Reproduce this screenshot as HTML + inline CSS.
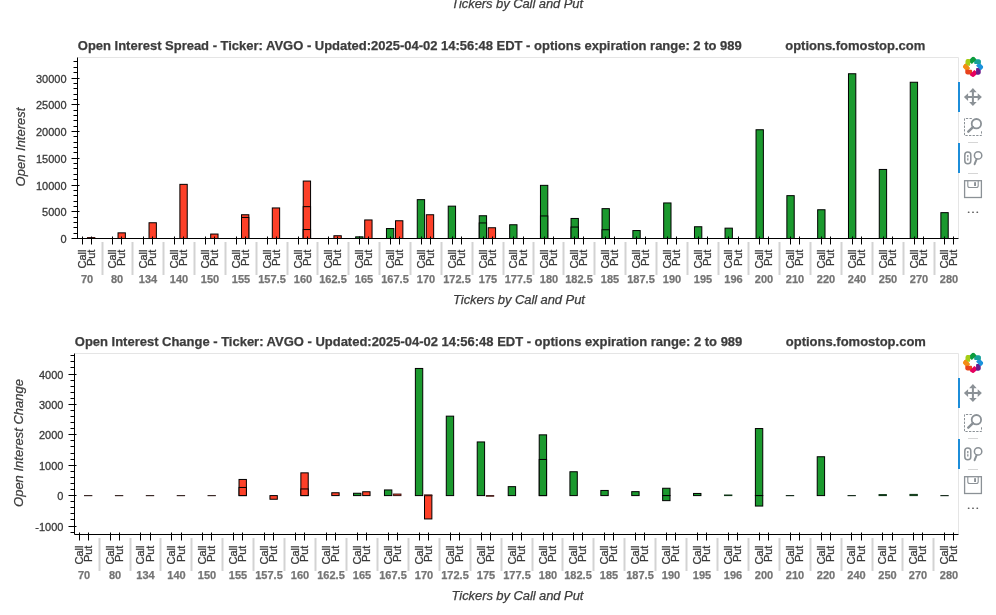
<!DOCTYPE html>
<html><head><meta charset="utf-8"><title>Open Interest</title>
<style>
html,body{margin:0;padding:0;background:#fff;}
body{width:996px;height:615px;overflow:hidden;font-family:"Liberation Sans",sans-serif;}
svg{display:block;}
text{font-family:"Liberation Sans",sans-serif;}
.tk{font-size:11px;fill:#383838;stroke:#383838;stroke-width:0.28px;}
.gp{font-size:11px;font-weight:bold;fill:#747474;stroke:#747474;stroke-width:0.25px;}
.ax{font-size:13px;font-style:italic;fill:#3c3c3c;stroke:#3c3c3c;stroke-width:0.25px;}
.tt{font-size:13px;font-weight:bold;fill:#3c3c3c;stroke:#3c3c3c;stroke-width:0.25px;}
</style></head><body>
<svg width="996" height="615" viewBox="0 0 996 615">
<rect width="996" height="615" fill="#fff"/>
<defs><filter id="lb" x="-20%" y="-20%" width="140%" height="140%"><feGaussianBlur stdDeviation="0.38"/></filter></defs>
<defs><mask id="mm"><rect width="996" height="615" fill="#fff"/></mask></defs>
<g mask="url(#mm)">
<text x="451.3" y="7.6" textLength="131.8" class="ax">Tickers by Call and Put</text>
<path d="M77.5 57.5H958.5V238.5" fill="none" stroke="#e5e5e5" stroke-width="1"/>
<rect x="87.48" y="237.55" width="7.34" height="0.95" fill="#fd4028" stroke="#3a1512" stroke-width="1"/>
<rect x="118.03" y="232.85" width="7.34" height="5.65" fill="#fd4028" stroke="#000" stroke-width="1"/>
<rect x="149.03" y="222.75" width="7.34" height="15.75" fill="#fd4028" stroke="#000" stroke-width="1"/>
<rect x="179.89" y="184.35" width="7.34" height="54.15" fill="#fd4028" stroke="#000" stroke-width="1"/>
<rect x="210.69" y="234.05" width="7.34" height="4.45" fill="#fd4028" stroke="#000" stroke-width="1"/>
<rect x="241.5" y="214.75" width="7.34" height="23.75" fill="#fd4028" stroke="#000" stroke-width="1"/>
<rect x="241.5" y="217.45" width="7.34" height="21.05" fill="#fd4028" stroke="#000" stroke-width="1"/>
<rect x="272.3" y="207.95" width="7.34" height="30.55" fill="#fd4028" stroke="#000" stroke-width="1"/>
<rect x="303.23" y="181.05" width="7.34" height="57.45" fill="#fd4028" stroke="#000" stroke-width="1"/>
<rect x="303.23" y="206.65" width="7.34" height="31.85" fill="#fd4028" stroke="#000" stroke-width="1"/>
<rect x="303.23" y="229.55" width="7.34" height="8.95" fill="#fd4028" stroke="#000" stroke-width="1"/>
<rect x="333.91" y="235.75" width="7.34" height="2.75" fill="#fd4028" stroke="#000" stroke-width="1"/>
<rect x="355.66" y="236.85" width="7.34" height="1.65" fill="#1b992e" stroke="#000" stroke-width="1"/>
<rect x="364.71" y="219.95" width="7.34" height="18.55" fill="#fd4028" stroke="#000" stroke-width="1"/>
<rect x="386.46" y="228.55" width="7.34" height="9.95" fill="#1b992e" stroke="#000" stroke-width="1"/>
<rect x="395.52" y="220.75" width="7.34" height="17.75" fill="#fd4028" stroke="#000" stroke-width="1"/>
<rect x="417.26" y="199.65" width="7.34" height="38.85" fill="#1b992e" stroke="#000" stroke-width="1"/>
<rect x="426.32" y="214.75" width="7.34" height="23.75" fill="#fd4028" stroke="#000" stroke-width="1"/>
<rect x="448.23" y="206.15" width="7.34" height="32.35" fill="#1b992e" stroke="#000" stroke-width="1"/>
<rect x="479.23" y="215.75" width="7.34" height="22.75" fill="#1b992e" stroke="#000" stroke-width="1"/>
<rect x="479.23" y="222.95" width="7.34" height="15.55" fill="#1b992e" stroke="#000" stroke-width="1"/>
<rect x="488.23" y="227.75" width="7.34" height="10.75" fill="#fd4028" stroke="#000" stroke-width="1"/>
<rect x="509.66" y="224.75" width="7.34" height="13.75" fill="#1b992e" stroke="#000" stroke-width="1"/>
<rect x="540.46" y="185.35" width="7.34" height="53.15" fill="#1b992e" stroke="#000" stroke-width="1"/>
<rect x="540.46" y="215.95" width="7.34" height="22.55" fill="#1b992e" stroke="#000" stroke-width="1"/>
<rect x="571.03" y="218.45" width="7.34" height="20.05" fill="#1b992e" stroke="#000" stroke-width="1"/>
<rect x="571.03" y="227.05" width="7.34" height="11.45" fill="#1b992e" stroke="#000" stroke-width="1"/>
<rect x="602.03" y="208.65" width="7.34" height="29.85" fill="#1b992e" stroke="#000" stroke-width="1"/>
<rect x="602.03" y="229.75" width="7.34" height="8.75" fill="#1b992e" stroke="#000" stroke-width="1"/>
<rect x="632.87" y="230.55" width="7.34" height="7.95" fill="#1b992e" stroke="#000" stroke-width="1"/>
<rect x="663.67" y="202.95" width="7.34" height="35.55" fill="#1b992e" stroke="#000" stroke-width="1"/>
<rect x="694.47" y="226.75" width="7.34" height="11.75" fill="#1b992e" stroke="#000" stroke-width="1"/>
<rect x="725.03" y="228.15" width="7.34" height="10.35" fill="#1b992e" stroke="#000" stroke-width="1"/>
<rect x="756.03" y="129.75" width="7.34" height="108.75" fill="#1b992e" stroke="#000" stroke-width="1"/>
<rect x="786.87" y="195.65" width="7.34" height="42.85" fill="#1b992e" stroke="#000" stroke-width="1"/>
<rect x="817.67" y="209.75" width="7.34" height="28.75" fill="#1b992e" stroke="#000" stroke-width="1"/>
<rect x="848.47" y="73.75" width="7.34" height="164.75" fill="#1b992e" stroke="#000" stroke-width="1"/>
<rect x="879.27" y="169.45" width="7.34" height="69.05" fill="#1b992e" stroke="#000" stroke-width="1"/>
<rect x="910.23" y="82.25" width="7.34" height="156.25" fill="#1b992e" stroke="#000" stroke-width="1"/>
<rect x="940.87" y="212.65" width="7.34" height="25.85" fill="#1b992e" stroke="#000" stroke-width="1"/>
<path d="M77.5 57.5V238.5H958.5" fill="none" stroke="#000" stroke-width="1"/>
<path d="M71.5 238.5H79.5M73.5 233.5H77.5M73.5 227.5H77.5M73.5 222.5H77.5M73.5 217.5H77.5M71.5 211.5H79.5M73.5 206.5H77.5M73.5 201.5H77.5M73.5 195.5H77.5M73.5 190.5H77.5M71.5 185.5H79.5M73.5 179.5H77.5M73.5 174.5H77.5M73.5 168.5H77.5M73.5 163.5H77.5M71.5 158.5H79.5M73.5 152.5H77.5M73.5 147.5H77.5M73.5 142.5H77.5M73.5 136.5H77.5M71.5 131.5H79.5M73.5 126.5H77.5M73.5 120.5H77.5M73.5 115.5H77.5M73.5 110.5H77.5M71.5 104.5H79.5M73.5 99.5H77.5M73.5 94.5H77.5M73.5 88.5H77.5M73.5 83.5H77.5M71.5 78.5H79.5M73.5 72.5H77.5M73.5 67.5H77.5M73.5 61.5H77.5" fill="none" stroke="#000" stroke-width="1"/>
<text x="66.6" y="242.85" text-anchor="end" class="tk">0</text>
<text x="66.6" y="215.85" text-anchor="end" class="tk">5000</text>
<text x="66.6" y="189.85" text-anchor="end" class="tk">10000</text>
<text x="66.6" y="162.85" text-anchor="end" class="tk">15000</text>
<text x="66.6" y="135.85" text-anchor="end" class="tk">20000</text>
<text x="66.6" y="108.85" text-anchor="end" class="tk">25000</text>
<text x="66.6" y="82.85" text-anchor="end" class="tk">30000</text>
<path d="M82.5 236.5V244.5M91.5 236.5V244.5M112.5 236.5V244.5M121.5 236.5V244.5M143.5 236.5V244.5M152.5 236.5V244.5M174.5 236.5V244.5M183.5 236.5V244.5M205.5 236.5V244.5M214.5 236.5V244.5M236.5 236.5V244.5M245.5 236.5V244.5M267.5 236.5V244.5M276.5 236.5V244.5M298.5 236.5V244.5M307.5 236.5V244.5M328.5 236.5V244.5M337.5 236.5V244.5M359.5 236.5V244.5M368.5 236.5V244.5M390.5 236.5V244.5M399.5 236.5V244.5M421.5 236.5V244.5M430.5 236.5V244.5M452.5 236.5V244.5M461.5 236.5V244.5M483.5 236.5V244.5M492.5 236.5V244.5M513.5 236.5V244.5M523.5 236.5V244.5M544.5 236.5V244.5M553.5 236.5V244.5M574.5 236.5V244.5M583.5 236.5V244.5M605.5 236.5V244.5M614.5 236.5V244.5M636.5 236.5V244.5M645.5 236.5V244.5M667.5 236.5V244.5M676.5 236.5V244.5M698.5 236.5V244.5M707.5 236.5V244.5M728.5 236.5V244.5M738.5 236.5V244.5M759.5 236.5V244.5M768.5 236.5V244.5M790.5 236.5V244.5M799.5 236.5V244.5M821.5 236.5V244.5M830.5 236.5V244.5M852.5 236.5V244.5M861.5 236.5V244.5M883.5 236.5V244.5M892.5 236.5V244.5M914.5 236.5V244.5M923.5 236.5V244.5M944.5 236.5V244.5M953.5 236.5V244.5" fill="none" stroke="#000" stroke-width="1"/>
<path d="M102.5 242V275M132.5 242V275M163.5 242V275M194.5 242V275M225.5 242V275M256.5 242V275M287.5 242V275M317.5 242V275M348.5 242V275M379.5 242V275M410.5 242V275M441.5 242V275M472.5 242V275M503.5 242V275M533.5 242V275M563.5 242V275M594.5 242V275M625.5 242V275M656.5 242V275M687.5 242V275M718.5 242V275M748.5 242V275M779.5 242V275M810.5 242V275M841.5 242V275M872.5 242V275M903.5 242V275M934.5 242V275" fill="none" stroke="#d3d3d3" stroke-width="2"/>
<text transform="translate(86.4 249.6) rotate(-90)" text-anchor="end" class="tk">Call</text>
<text transform="translate(95.4 249.6) rotate(-90)" text-anchor="end" class="tk">Put</text>
<text transform="translate(116.4 249.6) rotate(-90)" text-anchor="end" class="tk">Call</text>
<text transform="translate(125.4 249.6) rotate(-90)" text-anchor="end" class="tk">Put</text>
<text transform="translate(147.4 249.6) rotate(-90)" text-anchor="end" class="tk">Call</text>
<text transform="translate(156.4 249.6) rotate(-90)" text-anchor="end" class="tk">Put</text>
<text transform="translate(178.4 249.6) rotate(-90)" text-anchor="end" class="tk">Call</text>
<text transform="translate(187.4 249.6) rotate(-90)" text-anchor="end" class="tk">Put</text>
<text transform="translate(209.4 249.6) rotate(-90)" text-anchor="end" class="tk">Call</text>
<text transform="translate(218.4 249.6) rotate(-90)" text-anchor="end" class="tk">Put</text>
<text transform="translate(240.4 249.6) rotate(-90)" text-anchor="end" class="tk">Call</text>
<text transform="translate(249.4 249.6) rotate(-90)" text-anchor="end" class="tk">Put</text>
<text transform="translate(271.4 249.6) rotate(-90)" text-anchor="end" class="tk">Call</text>
<text transform="translate(280.4 249.6) rotate(-90)" text-anchor="end" class="tk">Put</text>
<text transform="translate(302.4 249.6) rotate(-90)" text-anchor="end" class="tk">Call</text>
<text transform="translate(311.4 249.6) rotate(-90)" text-anchor="end" class="tk">Put</text>
<text transform="translate(332.4 249.6) rotate(-90)" text-anchor="end" class="tk">Call</text>
<text transform="translate(341.4 249.6) rotate(-90)" text-anchor="end" class="tk">Put</text>
<text transform="translate(363.4 249.6) rotate(-90)" text-anchor="end" class="tk">Call</text>
<text transform="translate(372.4 249.6) rotate(-90)" text-anchor="end" class="tk">Put</text>
<text transform="translate(394.4 249.6) rotate(-90)" text-anchor="end" class="tk">Call</text>
<text transform="translate(403.4 249.6) rotate(-90)" text-anchor="end" class="tk">Put</text>
<text transform="translate(425.4 249.6) rotate(-90)" text-anchor="end" class="tk">Call</text>
<text transform="translate(434.4 249.6) rotate(-90)" text-anchor="end" class="tk">Put</text>
<text transform="translate(456.4 249.6) rotate(-90)" text-anchor="end" class="tk">Call</text>
<text transform="translate(465.4 249.6) rotate(-90)" text-anchor="end" class="tk">Put</text>
<text transform="translate(487.4 249.6) rotate(-90)" text-anchor="end" class="tk">Call</text>
<text transform="translate(496.4 249.6) rotate(-90)" text-anchor="end" class="tk">Put</text>
<text transform="translate(517.4 249.6) rotate(-90)" text-anchor="end" class="tk">Call</text>
<text transform="translate(527.4 249.6) rotate(-90)" text-anchor="end" class="tk">Put</text>
<text transform="translate(548.4 249.6) rotate(-90)" text-anchor="end" class="tk">Call</text>
<text transform="translate(557.4 249.6) rotate(-90)" text-anchor="end" class="tk">Put</text>
<text transform="translate(578.4 249.6) rotate(-90)" text-anchor="end" class="tk">Call</text>
<text transform="translate(587.4 249.6) rotate(-90)" text-anchor="end" class="tk">Put</text>
<text transform="translate(609.4 249.6) rotate(-90)" text-anchor="end" class="tk">Call</text>
<text transform="translate(618.4 249.6) rotate(-90)" text-anchor="end" class="tk">Put</text>
<text transform="translate(640.4 249.6) rotate(-90)" text-anchor="end" class="tk">Call</text>
<text transform="translate(649.4 249.6) rotate(-90)" text-anchor="end" class="tk">Put</text>
<text transform="translate(671.4 249.6) rotate(-90)" text-anchor="end" class="tk">Call</text>
<text transform="translate(680.4 249.6) rotate(-90)" text-anchor="end" class="tk">Put</text>
<text transform="translate(702.4 249.6) rotate(-90)" text-anchor="end" class="tk">Call</text>
<text transform="translate(711.4 249.6) rotate(-90)" text-anchor="end" class="tk">Put</text>
<text transform="translate(732.4 249.6) rotate(-90)" text-anchor="end" class="tk">Call</text>
<text transform="translate(742.4 249.6) rotate(-90)" text-anchor="end" class="tk">Put</text>
<text transform="translate(763.4 249.6) rotate(-90)" text-anchor="end" class="tk">Call</text>
<text transform="translate(772.4 249.6) rotate(-90)" text-anchor="end" class="tk">Put</text>
<text transform="translate(794.4 249.6) rotate(-90)" text-anchor="end" class="tk">Call</text>
<text transform="translate(803.4 249.6) rotate(-90)" text-anchor="end" class="tk">Put</text>
<text transform="translate(825.4 249.6) rotate(-90)" text-anchor="end" class="tk">Call</text>
<text transform="translate(834.4 249.6) rotate(-90)" text-anchor="end" class="tk">Put</text>
<text transform="translate(856.4 249.6) rotate(-90)" text-anchor="end" class="tk">Call</text>
<text transform="translate(865.4 249.6) rotate(-90)" text-anchor="end" class="tk">Put</text>
<text transform="translate(887.4 249.6) rotate(-90)" text-anchor="end" class="tk">Call</text>
<text transform="translate(896.4 249.6) rotate(-90)" text-anchor="end" class="tk">Put</text>
<text transform="translate(918.4 249.6) rotate(-90)" text-anchor="end" class="tk">Call</text>
<text transform="translate(927.4 249.6) rotate(-90)" text-anchor="end" class="tk">Put</text>
<text transform="translate(948.4 249.6) rotate(-90)" text-anchor="end" class="tk">Call</text>
<text transform="translate(957.4 249.6) rotate(-90)" text-anchor="end" class="tk">Put</text>
<text x="87" y="283.45" text-anchor="middle" class="gp">70</text>
<text x="117" y="283.45" text-anchor="middle" class="gp">80</text>
<text x="148" y="283.45" text-anchor="middle" class="gp">134</text>
<text x="179" y="283.45" text-anchor="middle" class="gp">140</text>
<text x="210" y="283.45" text-anchor="middle" class="gp">150</text>
<text x="241" y="283.45" text-anchor="middle" class="gp">155</text>
<text x="272" y="283.45" text-anchor="middle" class="gp">157.5</text>
<text x="303" y="283.45" text-anchor="middle" class="gp">160</text>
<text x="333" y="283.45" text-anchor="middle" class="gp">162.5</text>
<text x="364" y="283.45" text-anchor="middle" class="gp">165</text>
<text x="395" y="283.45" text-anchor="middle" class="gp">167.5</text>
<text x="426" y="283.45" text-anchor="middle" class="gp">170</text>
<text x="457" y="283.45" text-anchor="middle" class="gp">172.5</text>
<text x="488" y="283.45" text-anchor="middle" class="gp">175</text>
<text x="518.5" y="283.45" text-anchor="middle" class="gp">177.5</text>
<text x="549" y="283.45" text-anchor="middle" class="gp">180</text>
<text x="579" y="283.45" text-anchor="middle" class="gp">182.5</text>
<text x="610" y="283.45" text-anchor="middle" class="gp">185</text>
<text x="641" y="283.45" text-anchor="middle" class="gp">187.5</text>
<text x="672" y="283.45" text-anchor="middle" class="gp">190</text>
<text x="703" y="283.45" text-anchor="middle" class="gp">195</text>
<text x="733.5" y="283.45" text-anchor="middle" class="gp">196</text>
<text x="764" y="283.45" text-anchor="middle" class="gp">200</text>
<text x="795" y="283.45" text-anchor="middle" class="gp">210</text>
<text x="826" y="283.45" text-anchor="middle" class="gp">220</text>
<text x="857" y="283.45" text-anchor="middle" class="gp">240</text>
<text x="888" y="283.45" text-anchor="middle" class="gp">250</text>
<text x="919" y="283.45" text-anchor="middle" class="gp">270</text>
<text x="949" y="283.45" text-anchor="middle" class="gp">280</text>
<text x="453.1" y="303.7" textLength="131.8" class="ax">Tickers by Call and Put</text>
<text transform="translate(24.5 147) rotate(-90)" text-anchor="middle" class="ax">Open Interest</text>
<text x="77.8" y="50" textLength="663.9" class="tt">Open Interest Spread - Ticker: AVGO - Updated:2025-04-02 14:56:48 EDT - options expiration range: 2 to 989</text>
<text x="785.2" y="50" class="tt">options.fomostop.com</text>
<g transform="translate(973.1 66.9)" filter="url(#lb)">
<clipPath id="lr57"><circle r="10.1"/></clipPath>
<g clip-path="url(#lr57)">
<g transform="rotate(270)"><rect x="-2.33" y="-3.38" width="4.65" height="6.77" rx="0.9" fill="#f38d14" transform="translate(-0.6 -6.88) rotate(45)"/></g>
<g transform="rotate(225)"><rect x="-2.33" y="-3.38" width="4.65" height="6.77" rx="0.9" fill="#e8421c" transform="translate(-0.6 -6.88) rotate(45)"/></g>
<g transform="rotate(180)"><rect x="-2.33" y="-3.38" width="4.65" height="6.77" rx="0.9" fill="#e6005e" transform="translate(-0.6 -6.88) rotate(45)"/></g>
<g transform="rotate(135)"><rect x="-2.33" y="-3.38" width="4.65" height="6.77" rx="0.9" fill="#6a1b8c" transform="translate(-0.6 -6.88) rotate(45)"/></g>
<g transform="rotate(90)"><rect x="-2.33" y="-3.38" width="4.65" height="6.77" rx="0.9" fill="#1f92dc" transform="translate(-0.6 -6.88) rotate(45)"/></g>
<g transform="rotate(45)"><rect x="-2.33" y="-3.38" width="4.65" height="6.77" rx="0.9" fill="#15a19a" transform="translate(-0.6 -6.88) rotate(45)"/></g>
<g transform="rotate(0)"><rect x="-2.33" y="-3.38" width="4.65" height="6.77" rx="0.9" fill="#109c3e" transform="translate(-0.6 -6.88) rotate(45)"/></g>
<g transform="rotate(315)"><rect x="-2.33" y="-3.38" width="4.65" height="6.77" rx="0.9" fill="#a4cd14" transform="translate(-0.6 -6.88) rotate(45)"/></g>
<clipPath id="lc57"><rect x="-12" y="-6" width="12" height="6.4"/></clipPath>
<g clip-path="url(#lc57)">
<g transform="rotate(270)"><rect x="-2.33" y="-3.38" width="4.65" height="6.77" rx="0.9" fill="#f38d14" transform="translate(-0.6 -6.88) rotate(45)"/></g>
</g>
</g>
</g>
<rect x="958" y="82" width="2" height="30" fill="#1c8dd9"/>
<rect x="958" y="143" width="2" height="30" fill="#1c8dd9"/>
<g transform="translate(972.9 97.1)" fill="#8b9196" stroke="none"><path d="M0 -9L3.8 -4.8H1V-1H4.8V-3.8L9 0L4.8 3.8V1H1V4.8H3.8L0 9L-3.8 4.8H-1V1H-4.8V3.8L-9 0L-4.8 -3.8V-1H-1V-4.8H-3.8Z"/></g>
<g transform="translate(964 118)" fill="none" stroke="#8b9196"><path d="M7.8 0.5H0.5V17.5H17.5V12.6" stroke-width="1" stroke-dasharray="2.3 1.3"/><circle cx="12.4" cy="5.7" r="4.7" stroke-width="1.8"/><path d="M9 9.2L4.3 13.7" stroke-width="2.5" stroke-linecap="round"/></g>
<path d="M968 142.5H978M968 173.5H978" stroke="#d6d6d6" stroke-width="1" fill="none"/>
<g transform="translate(964 149)" fill="none" stroke="#8b9196"><rect x="0.8" y="3.1" width="6" height="11.6" rx="3" stroke-width="1.5"/><path d="M3.8 5.9V8.2M3.8 9.2V11.4" stroke-width="1.3"/><circle cx="14.1" cy="6.4" r="3.7" stroke-width="1.5"/><path d="M12.6 10.2L10.6 15.2" stroke-width="2" stroke-linecap="round"/></g>
<g transform="translate(964 180)" fill="none" stroke="#8b9196" stroke-width="1.3"><rect x="0.6" y="0.7" width="16.8" height="16.8"/><path d="M3.8 0.7V5.4Q3.8 7.5 5.8 7.5H12.2Q14.2 7.5 14.2 5.4V0.7" stroke-width="1.1"/><rect x="10.1" y="2.2" width="1.9" height="3.8" fill="#8b9196" stroke="none"/></g>
<g fill="#626262"><rect x="967.8" y="211.4" width="1.7" height="1.6" rx="0.5"/><rect x="972.15" y="211.4" width="1.7" height="1.6" rx="0.5"/><rect x="976.45" y="211.4" width="1.7" height="1.6" rx="0.5"/></g>
<path d="M74.5 353.5H958.5V534.5" fill="none" stroke="#e5e5e5" stroke-width="1"/>
<path d="M83.99 495.6H92.35" stroke="#3d2c2a" stroke-width="1.2" fill="none"/>
<path d="M114.9 495.6H123.26" stroke="#3d2c2a" stroke-width="1.2" fill="none"/>
<path d="M145.81 495.6H154.17" stroke="#3d2c2a" stroke-width="1.2" fill="none"/>
<path d="M176.72 495.6H185.08" stroke="#3d2c2a" stroke-width="1.2" fill="none"/>
<path d="M207.52 495.6H215.88" stroke="#3d2c2a" stroke-width="1.2" fill="none"/>
<rect x="239.02" y="479.45" width="7.37" height="16.15" fill="#fd4028" stroke="#000" stroke-width="1"/>
<rect x="239.02" y="487.45" width="7.37" height="8.15" fill="#fd4028" stroke="#000" stroke-width="1"/>
<rect x="269.95" y="495.6" width="7.37" height="3.65" fill="#fd4028" stroke="#000" stroke-width="1"/>
<rect x="300.86" y="472.85" width="7.37" height="22.75" fill="#fd4028" stroke="#000" stroke-width="1"/>
<rect x="300.86" y="488.95" width="7.37" height="6.65" fill="#fd4028" stroke="#000" stroke-width="1"/>
<rect x="331.77" y="492.75" width="7.37" height="2.85" fill="#fd4028" stroke="#000" stroke-width="1"/>
<rect x="353.55" y="493.25" width="7.37" height="2.35" fill="#1b992e" stroke="#000" stroke-width="1"/>
<rect x="362.68" y="491.75" width="7.37" height="3.85" fill="#fd4028" stroke="#000" stroke-width="1"/>
<rect x="384.46" y="489.95" width="7.37" height="5.65" fill="#1b992e" stroke="#000" stroke-width="1"/>
<rect x="393.59" y="494.05" width="7.37" height="1.55" fill="#fd4028" stroke="#3a1512" stroke-width="1"/>
<rect x="415.37" y="368.45" width="7.37" height="127.15" fill="#1b992e" stroke="#000" stroke-width="1"/>
<rect x="424.5" y="495.6" width="7.37" height="23.35" fill="#fd4028" stroke="#000" stroke-width="1"/>
<rect x="424.5" y="494.9" width="7.37" height="0.7" fill="#fd4028" stroke="#3a1512" stroke-width="1"/>
<rect x="446.28" y="416.15" width="7.37" height="79.45" fill="#1b992e" stroke="#000" stroke-width="1"/>
<rect x="477.22" y="441.95" width="7.37" height="53.65" fill="#1b992e" stroke="#000" stroke-width="1"/>
<rect x="486.33" y="495.6" width="7.37" height="0.6" fill="#fd4028" stroke="#3a1512" stroke-width="1"/>
<rect x="508.22" y="486.65" width="7.37" height="8.95" fill="#1b992e" stroke="#000" stroke-width="1"/>
<rect x="539.22" y="434.85" width="7.37" height="60.75" fill="#1b992e" stroke="#000" stroke-width="1"/>
<rect x="539.22" y="459.45" width="7.37" height="36.15" fill="#1b992e" stroke="#000" stroke-width="1"/>
<rect x="569.92" y="471.75" width="7.37" height="23.85" fill="#1b992e" stroke="#000" stroke-width="1"/>
<rect x="600.83" y="490.45" width="7.37" height="5.15" fill="#1b992e" stroke="#000" stroke-width="1"/>
<rect x="631.74" y="491.65" width="7.37" height="3.95" fill="#1b992e" stroke="#000" stroke-width="1"/>
<rect x="662.65" y="488.25" width="7.37" height="7.35" fill="#1b992e" stroke="#000" stroke-width="1"/>
<rect x="662.65" y="495.6" width="7.37" height="5.05" fill="#1b992e" stroke="#000" stroke-width="1"/>
<rect x="693.56" y="493.45" width="7.37" height="2.15" fill="#1b992e" stroke="#000" stroke-width="1"/>
<rect x="724.48" y="495" width="7.37" height="0.6" fill="#1b992e" stroke="#0f3517" stroke-width="1"/>
<rect x="755.39" y="428.55" width="7.37" height="67.05" fill="#1b992e" stroke="#000" stroke-width="1"/>
<rect x="755.39" y="495.6" width="7.37" height="10.45" fill="#1b992e" stroke="#000" stroke-width="1"/>
<path d="M785.8 495.6H794.16" stroke="#1c3022" stroke-width="1.2" fill="none"/>
<rect x="817.22" y="456.75" width="7.37" height="38.85" fill="#1b992e" stroke="#000" stroke-width="1"/>
<path d="M847.52 495.6H855.88" stroke="#1c3022" stroke-width="1.2" fill="none"/>
<rect x="879.02" y="494.6" width="7.37" height="1" fill="#1b992e" stroke="#0f3517" stroke-width="1"/>
<rect x="909.94" y="494.4" width="7.37" height="1.2" fill="#1b992e" stroke="#0f3517" stroke-width="1"/>
<path d="M940.35 495.6H948.72" stroke="#1c3022" stroke-width="1.2" fill="none"/>
<path d="M74.5 353.5V534.5H958.5" fill="none" stroke="#000" stroke-width="1"/>
<path d="M70.5 532.5H74.5M68.5 526.5H76.5M70.5 519.5H74.5M70.5 513.5H74.5M70.5 507.5H74.5M70.5 501.5H74.5M68.5 495.5H76.5M70.5 489.5H74.5M70.5 483.5H74.5M70.5 477.5H74.5M70.5 471.5H74.5M68.5 465.5H76.5M70.5 459.5H74.5M70.5 453.5H74.5M70.5 446.5H74.5M70.5 440.5H74.5M68.5 434.5H76.5M70.5 428.5H74.5M70.5 422.5H74.5M70.5 416.5H74.5M70.5 410.5H74.5M68.5 404.5H76.5M70.5 398.5H74.5M70.5 392.5H74.5M70.5 386.5H74.5M70.5 380.5H74.5M68.5 374.5H76.5M70.5 367.5H74.5M70.5 361.5H74.5M70.5 355.5H74.5" fill="none" stroke="#000" stroke-width="1"/>
<text x="63.4" y="530.95" text-anchor="end" class="tk">-1000</text>
<text x="63.4" y="499.95" text-anchor="end" class="tk">0</text>
<text x="63.4" y="469.95" text-anchor="end" class="tk">1000</text>
<text x="63.4" y="438.95" text-anchor="end" class="tk">2000</text>
<text x="63.4" y="408.95" text-anchor="end" class="tk">3000</text>
<text x="63.4" y="378.95" text-anchor="end" class="tk">4000</text>
<path d="M79.5 532.5V540.5M88.5 532.5V540.5M110.5 532.5V540.5M119.5 532.5V540.5M140.5 532.5V540.5M150.5 532.5V540.5M171.5 532.5V540.5M181.5 532.5V540.5M202.5 532.5V540.5M211.5 532.5V540.5M233.5 532.5V540.5M242.5 532.5V540.5M264.5 532.5V540.5M273.5 532.5V540.5M295.5 532.5V540.5M304.5 532.5V540.5M326.5 532.5V540.5M335.5 532.5V540.5M357.5 532.5V540.5M366.5 532.5V540.5M388.5 532.5V540.5M397.5 532.5V540.5M419.5 532.5V540.5M428.5 532.5V540.5M450.5 532.5V540.5M459.5 532.5V540.5M481.5 532.5V540.5M490.5 532.5V540.5M512.5 532.5V540.5M521.5 532.5V540.5M543.5 532.5V540.5M552.5 532.5V540.5M573.5 532.5V540.5M582.5 532.5V540.5M604.5 532.5V540.5M613.5 532.5V540.5M635.5 532.5V540.5M644.5 532.5V540.5M666.5 532.5V540.5M675.5 532.5V540.5M697.5 532.5V540.5M706.5 532.5V540.5M728.5 532.5V540.5M737.5 532.5V540.5M759.5 532.5V540.5M768.5 532.5V540.5M790.5 532.5V540.5M799.5 532.5V540.5M821.5 532.5V540.5M830.5 532.5V540.5M851.5 532.5V540.5M861.5 532.5V540.5M882.5 532.5V540.5M892.5 532.5V540.5M913.5 532.5V540.5M922.5 532.5V540.5M944.5 532.5V540.5M953.5 532.5V540.5" fill="none" stroke="#000" stroke-width="1"/>
<path d="M99.5 538V571M130.5 538V571M160.5 538V571M191.5 538V571M222.5 538V571M253.5 538V571M284.5 538V571M315.5 538V571M346.5 538V571M377.5 538V571M408.5 538V571M439.5 538V571M470.5 538V571M501.5 538V571M532.5 538V571M562.5 538V571M593.5 538V571M624.5 538V571M655.5 538V571M686.5 538V571M717.5 538V571M748.5 538V571M779.5 538V571M810.5 538V571M841.5 538V571M872.5 538V571M902.5 538V571M933.5 538V571" fill="none" stroke="#d3d3d3" stroke-width="2"/>
<text transform="translate(83.4 545.6) rotate(-90)" text-anchor="end" class="tk">Call</text>
<text transform="translate(92.4 545.6) rotate(-90)" text-anchor="end" class="tk">Put</text>
<text transform="translate(114.4 545.6) rotate(-90)" text-anchor="end" class="tk">Call</text>
<text transform="translate(123.4 545.6) rotate(-90)" text-anchor="end" class="tk">Put</text>
<text transform="translate(144.4 545.6) rotate(-90)" text-anchor="end" class="tk">Call</text>
<text transform="translate(154.4 545.6) rotate(-90)" text-anchor="end" class="tk">Put</text>
<text transform="translate(175.4 545.6) rotate(-90)" text-anchor="end" class="tk">Call</text>
<text transform="translate(185.4 545.6) rotate(-90)" text-anchor="end" class="tk">Put</text>
<text transform="translate(206.4 545.6) rotate(-90)" text-anchor="end" class="tk">Call</text>
<text transform="translate(215.4 545.6) rotate(-90)" text-anchor="end" class="tk">Put</text>
<text transform="translate(237.4 545.6) rotate(-90)" text-anchor="end" class="tk">Call</text>
<text transform="translate(246.4 545.6) rotate(-90)" text-anchor="end" class="tk">Put</text>
<text transform="translate(268.4 545.6) rotate(-90)" text-anchor="end" class="tk">Call</text>
<text transform="translate(277.4 545.6) rotate(-90)" text-anchor="end" class="tk">Put</text>
<text transform="translate(299.4 545.6) rotate(-90)" text-anchor="end" class="tk">Call</text>
<text transform="translate(308.4 545.6) rotate(-90)" text-anchor="end" class="tk">Put</text>
<text transform="translate(330.4 545.6) rotate(-90)" text-anchor="end" class="tk">Call</text>
<text transform="translate(339.4 545.6) rotate(-90)" text-anchor="end" class="tk">Put</text>
<text transform="translate(361.4 545.6) rotate(-90)" text-anchor="end" class="tk">Call</text>
<text transform="translate(370.4 545.6) rotate(-90)" text-anchor="end" class="tk">Put</text>
<text transform="translate(392.4 545.6) rotate(-90)" text-anchor="end" class="tk">Call</text>
<text transform="translate(401.4 545.6) rotate(-90)" text-anchor="end" class="tk">Put</text>
<text transform="translate(423.4 545.6) rotate(-90)" text-anchor="end" class="tk">Call</text>
<text transform="translate(432.4 545.6) rotate(-90)" text-anchor="end" class="tk">Put</text>
<text transform="translate(454.4 545.6) rotate(-90)" text-anchor="end" class="tk">Call</text>
<text transform="translate(463.4 545.6) rotate(-90)" text-anchor="end" class="tk">Put</text>
<text transform="translate(485.4 545.6) rotate(-90)" text-anchor="end" class="tk">Call</text>
<text transform="translate(494.4 545.6) rotate(-90)" text-anchor="end" class="tk">Put</text>
<text transform="translate(516.4 545.6) rotate(-90)" text-anchor="end" class="tk">Call</text>
<text transform="translate(525.4 545.6) rotate(-90)" text-anchor="end" class="tk">Put</text>
<text transform="translate(547.4 545.6) rotate(-90)" text-anchor="end" class="tk">Call</text>
<text transform="translate(556.4 545.6) rotate(-90)" text-anchor="end" class="tk">Put</text>
<text transform="translate(577.4 545.6) rotate(-90)" text-anchor="end" class="tk">Call</text>
<text transform="translate(586.4 545.6) rotate(-90)" text-anchor="end" class="tk">Put</text>
<text transform="translate(608.4 545.6) rotate(-90)" text-anchor="end" class="tk">Call</text>
<text transform="translate(617.4 545.6) rotate(-90)" text-anchor="end" class="tk">Put</text>
<text transform="translate(639.4 545.6) rotate(-90)" text-anchor="end" class="tk">Call</text>
<text transform="translate(648.4 545.6) rotate(-90)" text-anchor="end" class="tk">Put</text>
<text transform="translate(670.4 545.6) rotate(-90)" text-anchor="end" class="tk">Call</text>
<text transform="translate(679.4 545.6) rotate(-90)" text-anchor="end" class="tk">Put</text>
<text transform="translate(701.4 545.6) rotate(-90)" text-anchor="end" class="tk">Call</text>
<text transform="translate(710.4 545.6) rotate(-90)" text-anchor="end" class="tk">Put</text>
<text transform="translate(732.4 545.6) rotate(-90)" text-anchor="end" class="tk">Call</text>
<text transform="translate(741.4 545.6) rotate(-90)" text-anchor="end" class="tk">Put</text>
<text transform="translate(763.4 545.6) rotate(-90)" text-anchor="end" class="tk">Call</text>
<text transform="translate(772.4 545.6) rotate(-90)" text-anchor="end" class="tk">Put</text>
<text transform="translate(794.4 545.6) rotate(-90)" text-anchor="end" class="tk">Call</text>
<text transform="translate(803.4 545.6) rotate(-90)" text-anchor="end" class="tk">Put</text>
<text transform="translate(825.4 545.6) rotate(-90)" text-anchor="end" class="tk">Call</text>
<text transform="translate(834.4 545.6) rotate(-90)" text-anchor="end" class="tk">Put</text>
<text transform="translate(855.4 545.6) rotate(-90)" text-anchor="end" class="tk">Call</text>
<text transform="translate(865.4 545.6) rotate(-90)" text-anchor="end" class="tk">Put</text>
<text transform="translate(886.4 545.6) rotate(-90)" text-anchor="end" class="tk">Call</text>
<text transform="translate(896.4 545.6) rotate(-90)" text-anchor="end" class="tk">Put</text>
<text transform="translate(917.4 545.6) rotate(-90)" text-anchor="end" class="tk">Call</text>
<text transform="translate(926.4 545.6) rotate(-90)" text-anchor="end" class="tk">Put</text>
<text transform="translate(948.4 545.6) rotate(-90)" text-anchor="end" class="tk">Call</text>
<text transform="translate(957.4 545.6) rotate(-90)" text-anchor="end" class="tk">Put</text>
<text x="84" y="579.45" text-anchor="middle" class="gp">70</text>
<text x="115" y="579.45" text-anchor="middle" class="gp">80</text>
<text x="145.5" y="579.45" text-anchor="middle" class="gp">134</text>
<text x="176.5" y="579.45" text-anchor="middle" class="gp">140</text>
<text x="207" y="579.45" text-anchor="middle" class="gp">150</text>
<text x="238" y="579.45" text-anchor="middle" class="gp">155</text>
<text x="269" y="579.45" text-anchor="middle" class="gp">157.5</text>
<text x="300" y="579.45" text-anchor="middle" class="gp">160</text>
<text x="331" y="579.45" text-anchor="middle" class="gp">162.5</text>
<text x="362" y="579.45" text-anchor="middle" class="gp">165</text>
<text x="393" y="579.45" text-anchor="middle" class="gp">167.5</text>
<text x="424" y="579.45" text-anchor="middle" class="gp">170</text>
<text x="455" y="579.45" text-anchor="middle" class="gp">172.5</text>
<text x="486" y="579.45" text-anchor="middle" class="gp">175</text>
<text x="517" y="579.45" text-anchor="middle" class="gp">177.5</text>
<text x="548" y="579.45" text-anchor="middle" class="gp">180</text>
<text x="578" y="579.45" text-anchor="middle" class="gp">182.5</text>
<text x="609" y="579.45" text-anchor="middle" class="gp">185</text>
<text x="640" y="579.45" text-anchor="middle" class="gp">187.5</text>
<text x="671" y="579.45" text-anchor="middle" class="gp">190</text>
<text x="702" y="579.45" text-anchor="middle" class="gp">195</text>
<text x="733" y="579.45" text-anchor="middle" class="gp">196</text>
<text x="764" y="579.45" text-anchor="middle" class="gp">200</text>
<text x="795" y="579.45" text-anchor="middle" class="gp">210</text>
<text x="826" y="579.45" text-anchor="middle" class="gp">220</text>
<text x="856.5" y="579.45" text-anchor="middle" class="gp">240</text>
<text x="887.5" y="579.45" text-anchor="middle" class="gp">250</text>
<text x="918" y="579.45" text-anchor="middle" class="gp">270</text>
<text x="949" y="579.45" text-anchor="middle" class="gp">280</text>
<text x="451.6" y="599.7" textLength="131.8" class="ax">Tickers by Call and Put</text>
<text transform="translate(22.9 443) rotate(-90)" text-anchor="middle" class="ax">Open Interest Change</text>
<text x="74.8" y="346" textLength="667.5" class="tt">Open Interest Change - Ticker: AVGO - Updated:2025-04-02 14:56:48 EDT - options expiration range: 2 to 989</text>
<text x="785.8" y="346" class="tt">options.fomostop.com</text>
<g transform="translate(973.1 362.9)" filter="url(#lb)">
<clipPath id="lr353"><circle r="10.1"/></clipPath>
<g clip-path="url(#lr353)">
<g transform="rotate(270)"><rect x="-2.33" y="-3.38" width="4.65" height="6.77" rx="0.9" fill="#f38d14" transform="translate(-0.6 -6.88) rotate(45)"/></g>
<g transform="rotate(225)"><rect x="-2.33" y="-3.38" width="4.65" height="6.77" rx="0.9" fill="#e8421c" transform="translate(-0.6 -6.88) rotate(45)"/></g>
<g transform="rotate(180)"><rect x="-2.33" y="-3.38" width="4.65" height="6.77" rx="0.9" fill="#e6005e" transform="translate(-0.6 -6.88) rotate(45)"/></g>
<g transform="rotate(135)"><rect x="-2.33" y="-3.38" width="4.65" height="6.77" rx="0.9" fill="#6a1b8c" transform="translate(-0.6 -6.88) rotate(45)"/></g>
<g transform="rotate(90)"><rect x="-2.33" y="-3.38" width="4.65" height="6.77" rx="0.9" fill="#1f92dc" transform="translate(-0.6 -6.88) rotate(45)"/></g>
<g transform="rotate(45)"><rect x="-2.33" y="-3.38" width="4.65" height="6.77" rx="0.9" fill="#15a19a" transform="translate(-0.6 -6.88) rotate(45)"/></g>
<g transform="rotate(0)"><rect x="-2.33" y="-3.38" width="4.65" height="6.77" rx="0.9" fill="#109c3e" transform="translate(-0.6 -6.88) rotate(45)"/></g>
<g transform="rotate(315)"><rect x="-2.33" y="-3.38" width="4.65" height="6.77" rx="0.9" fill="#a4cd14" transform="translate(-0.6 -6.88) rotate(45)"/></g>
<clipPath id="lc353"><rect x="-12" y="-6" width="12" height="6.4"/></clipPath>
<g clip-path="url(#lc353)">
<g transform="rotate(270)"><rect x="-2.33" y="-3.38" width="4.65" height="6.77" rx="0.9" fill="#f38d14" transform="translate(-0.6 -6.88) rotate(45)"/></g>
</g>
</g>
</g>
<rect x="958" y="378" width="2" height="30" fill="#1c8dd9"/>
<rect x="958" y="439" width="2" height="30" fill="#1c8dd9"/>
<g transform="translate(972.9 393.1)" fill="#8b9196" stroke="none"><path d="M0 -9L3.8 -4.8H1V-1H4.8V-3.8L9 0L4.8 3.8V1H1V4.8H3.8L0 9L-3.8 4.8H-1V1H-4.8V3.8L-9 0L-4.8 -3.8V-1H-1V-4.8H-3.8Z"/></g>
<g transform="translate(964 414)" fill="none" stroke="#8b9196"><path d="M7.8 0.5H0.5V17.5H17.5V12.6" stroke-width="1" stroke-dasharray="2.3 1.3"/><circle cx="12.4" cy="5.7" r="4.7" stroke-width="1.8"/><path d="M9 9.2L4.3 13.7" stroke-width="2.5" stroke-linecap="round"/></g>
<path d="M968 438.5H978M968 469.5H978" stroke="#d6d6d6" stroke-width="1" fill="none"/>
<g transform="translate(964 445)" fill="none" stroke="#8b9196"><rect x="0.8" y="3.1" width="6" height="11.6" rx="3" stroke-width="1.5"/><path d="M3.8 5.9V8.2M3.8 9.2V11.4" stroke-width="1.3"/><circle cx="14.1" cy="6.4" r="3.7" stroke-width="1.5"/><path d="M12.6 10.2L10.6 15.2" stroke-width="2" stroke-linecap="round"/></g>
<g transform="translate(964 476)" fill="none" stroke="#8b9196" stroke-width="1.3"><rect x="0.6" y="0.7" width="16.8" height="16.8"/><path d="M3.8 0.7V5.4Q3.8 7.5 5.8 7.5H12.2Q14.2 7.5 14.2 5.4V0.7" stroke-width="1.1"/><rect x="10.1" y="2.2" width="1.9" height="3.8" fill="#8b9196" stroke="none"/></g>
<g fill="#626262"><rect x="967.8" y="507.4" width="1.7" height="1.6" rx="0.5"/><rect x="972.15" y="507.4" width="1.7" height="1.6" rx="0.5"/><rect x="976.45" y="507.4" width="1.7" height="1.6" rx="0.5"/></g>
</g>
</svg>
</body></html>
